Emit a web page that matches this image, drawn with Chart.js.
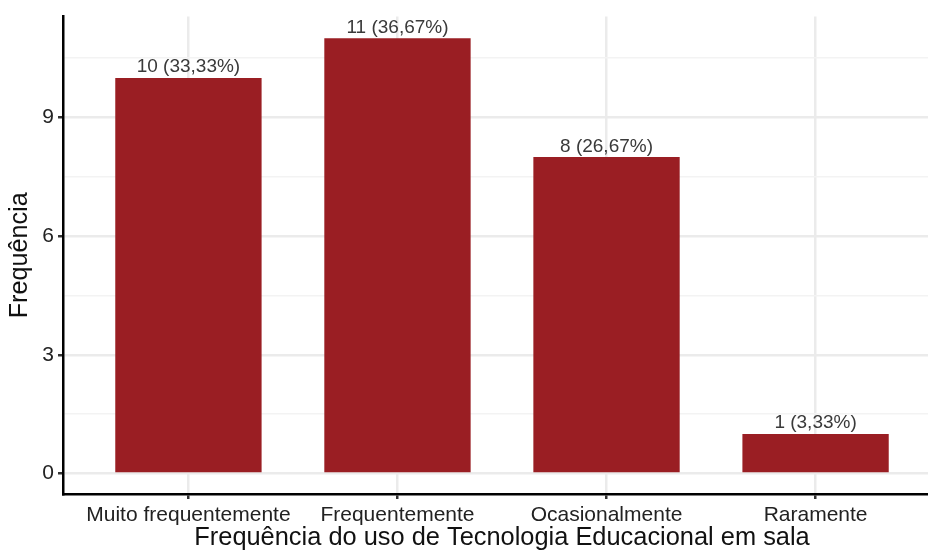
<!DOCTYPE html>
<html>
<head>
<meta charset="utf-8">
<script src="https://cdn.jsdelivr.net/npm/chart.js@4.4.1/dist/chart.umd.min.js"></script>
<style>
  html, body { margin: 0; padding: 0; background: #fff; overflow: hidden; }
  #wrap { width: 941px; height: 552px; }
</style>
</head>
<body>
<div id="wrap"><canvas id="chart" width="941" height="552"></canvas></div>
<script>
const categories = ['Muito frequentemente', 'Frequentemente', 'Ocasionalmente', 'Raramente'];
const counts = [10, 11, 8, 1];
const yTicks = [0, 3, 6, 9];
const yMinorTicks = [1.5, 4.5, 7.5, 10.5];

const FONT = "'Liberation Sans', Arial, sans-serif";
const total = counts.reduce((a, b) => a + b, 0);
const isMajor = v => yTicks.includes(v);

// count + percentage above each bar
const barLabels = {
  id: 'barLabels',
  afterDatasetsDraw(chart) {
    const ctx = chart.ctx;
    const meta = chart.getDatasetMeta(0);
    ctx.save();
    ctx.font = `19px ${FONT}`;
    ctx.fillStyle = '#3a3a3a';
    ctx.textAlign = 'center';
    ctx.textBaseline = 'alphabetic';
    meta.data.forEach((bar, i) => {
      const pct = (counts[i] / total * 100).toFixed(2).replace('.', ',');
      ctx.fillText(`${counts[i]} (${pct}%)`, bar.x, bar.y - 5.5);
    });
    ctx.restore();
  }
};

new Chart(document.getElementById('chart'), {
  type: 'bar',
  data: {
    datasets: [{
      data: counts.map((v, i) => ({ x: i, y: v })),
      backgroundColor: '#9a1e23',
      barPercentage: 0.7,
      categoryPercentage: 1
    }]
  },
  options: {
    responsive: false,
    animation: false,
    layout: { padding: { top: 16, right: 0, left: 0, bottom: 0 } },
    plugins: { legend: { display: false }, tooltip: { enabled: false } },
    scales: {
      x: {
        type: 'linear',
        min: -0.6,
        max: 3.6,
        offset: false,
        afterBuildTicks: s => { s.ticks = categories.map((c, i) => ({ value: i })); },
        afterFit: s => { s.height = 58; },
        ticks: {
          callback: v => categories[v] ?? '',
          font: { family: FONT, size: 21 },
          color: '#222',
          padding: 4,
          maxRotation: 0,
          autoSkip: false
        },
        grid: { offset: false, color: '#ebebeb', lineWidth: 2.5, tickLength: 5, tickColor: '#333', tickWidth: 2.5 },
        border: { color: '#000', width: 2.5 },
        title: {
          display: true,
          text: 'Frequência do uso de Tecnologia Educacional em sala',
          font: { family: FONT, size: 25.4, lineHeight: 1 },
          color: '#111',
          padding: { top: 0, bottom: 1 }
        }
      },
      y: {
        min: -0.52,
        max: 11.55,
        afterBuildTicks: s => {
          s.ticks = [...yTicks, ...yMinorTicks].sort((a, b) => a - b).map(v => ({ value: v }));
        },
        afterFit: s => { s.width = 63; },
        ticks: {
          callback: v => isMajor(v) ? String(v) : '',
          font: { family: FONT, size: 21 },
          color: '#222',
          padding: 4
        },
        grid: {
          color: c => isMajor(c.tick.value) ? '#ebebeb' : '#f3f3f3',
          lineWidth: c => isMajor(c.tick.value) ? 2.5 : 1.5,
          tickLength: 5,
          tickColor: c => isMajor(c.tick.value) ? '#333' : 'rgba(0,0,0,0)',
          tickWidth: 2.5
        },
        border: { color: '#000', width: 2.5 },
        title: {
          display: true,
          text: 'Frequência',
          font: { family: FONT, size: 25.2, lineHeight: 1 },
          color: '#111',
          padding: { top: 7, bottom: 0 }
        }
      }
    }
  },
  plugins: [barLabels]
});
</script>
</body>
</html>
